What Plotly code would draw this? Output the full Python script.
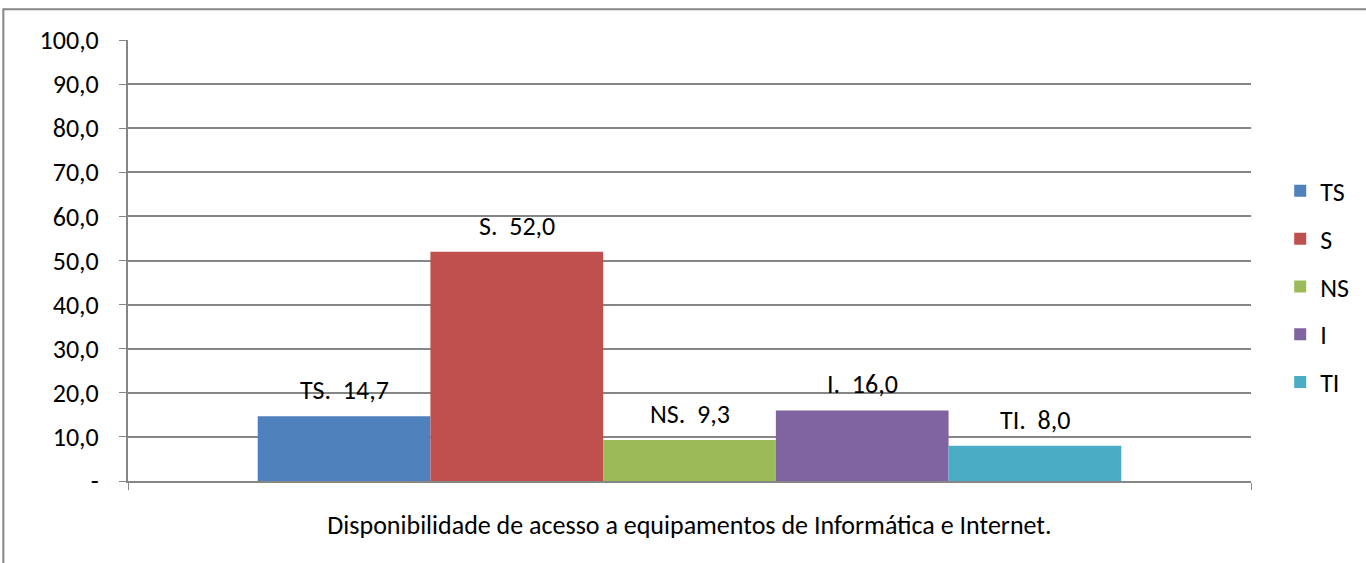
import plotly.graph_objects as go

# dados do grafico
categoria = ["Disponibilidade de acesso a equipamentos de Informática e Internet."]
series = ["TS", "S", "NS", "I", "TI"]
valores = [14.7, 52.0, 9.3, 16.0, 8.0]
cores = ["#4F81BD", "#C0504D", "#9BBB59", "#8064A2", "#4BACC6"]
y_ticks = [0, 10, 20, 30, 40, 50, 60, 70, 80, 90, 100]
y_ticktext = ["-", "10,0", "20,0", "30,0", "40,0", "50,0", "60,0", "70,0", "80,0", "90,0", "100,0"]

FONTE = "Carlito, Open Sans, sans-serif"
CINZA = "#868686"
TAM = 26
BARGAP = 0.231

fig = go.Figure()
for nome, v, cor in zip(series, valores, cores):
    fig.add_trace(go.Bar(
        x=categoria, y=[v], name=nome, legendgroup=nome,
        marker=dict(color=cor, line=dict(width=0)),
    ))

# rotulos de dados acima de cada barra (posicao x no indice da categoria)
larg = (1 - BARGAP) / len(series)
for i, (nome, v) in enumerate(zip(series, valores)):
    rotulo = nome + ".  " + ("%.1f" % v).replace(".", ",")
    fig.add_annotation(
        x=-0.5 + BARGAP / 2 + (i + 0.5) * larg, y=v, xref="x", yref="y",
        text=rotulo, showarrow=False, yanchor="middle", yshift=26,
        font=dict(size=TAM, color="black", family=FONTE),
    )

fig.update_layout(
    width=1366, height=563,
    margin=dict(l=128, r=113, t=40, b=82),
    paper_bgcolor="white", plot_bgcolor="white",
    font=dict(family=FONTE, size=TAM, color="black"),
    barmode="group", bargap=BARGAP, bargroupgap=0,
    showlegend=True,
    legend=dict(x=1.026, xanchor="left", y=0.44, yanchor="middle",
                tracegroupgap=11, font=dict(size=TAM), bgcolor="rgba(0,0,0,0)"),
    xaxis=dict(
        type="category", range=[-0.5, 0.5], showticklabels=False,
        ticks="outside", tickson="boundaries", ticklen=7, tickcolor=CINZA,
        showline=True, linecolor=CINZA, linewidth=2, showgrid=False,
        title=dict(text=categoria[0], standoff=34, font=dict(size=TAM)),
    ),
    yaxis=dict(
        range=[0, 100], tickvals=y_ticks, ticktext=y_ticktext,
        ticks="outside", ticklen=7, tickcolor=CINZA, ticklabelstandoff=15,
        showline=True, linecolor=CINZA, linewidth=2,
        showgrid=True, gridcolor=CINZA, gridwidth=2, zeroline=False,
    ),
    shapes=[dict(type="rect", xref="paper", yref="paper",
                 x0=-0.111, x1=1.2, y0=-0.3, y1=1.070,
                 line=dict(color=CINZA, width=2), fillcolor="rgba(0,0,0,0)", layer="below")],
)

fig.write_html("out.html", config={"displayModeBar": False},
               post_script="document.body.style.margin='0';")
